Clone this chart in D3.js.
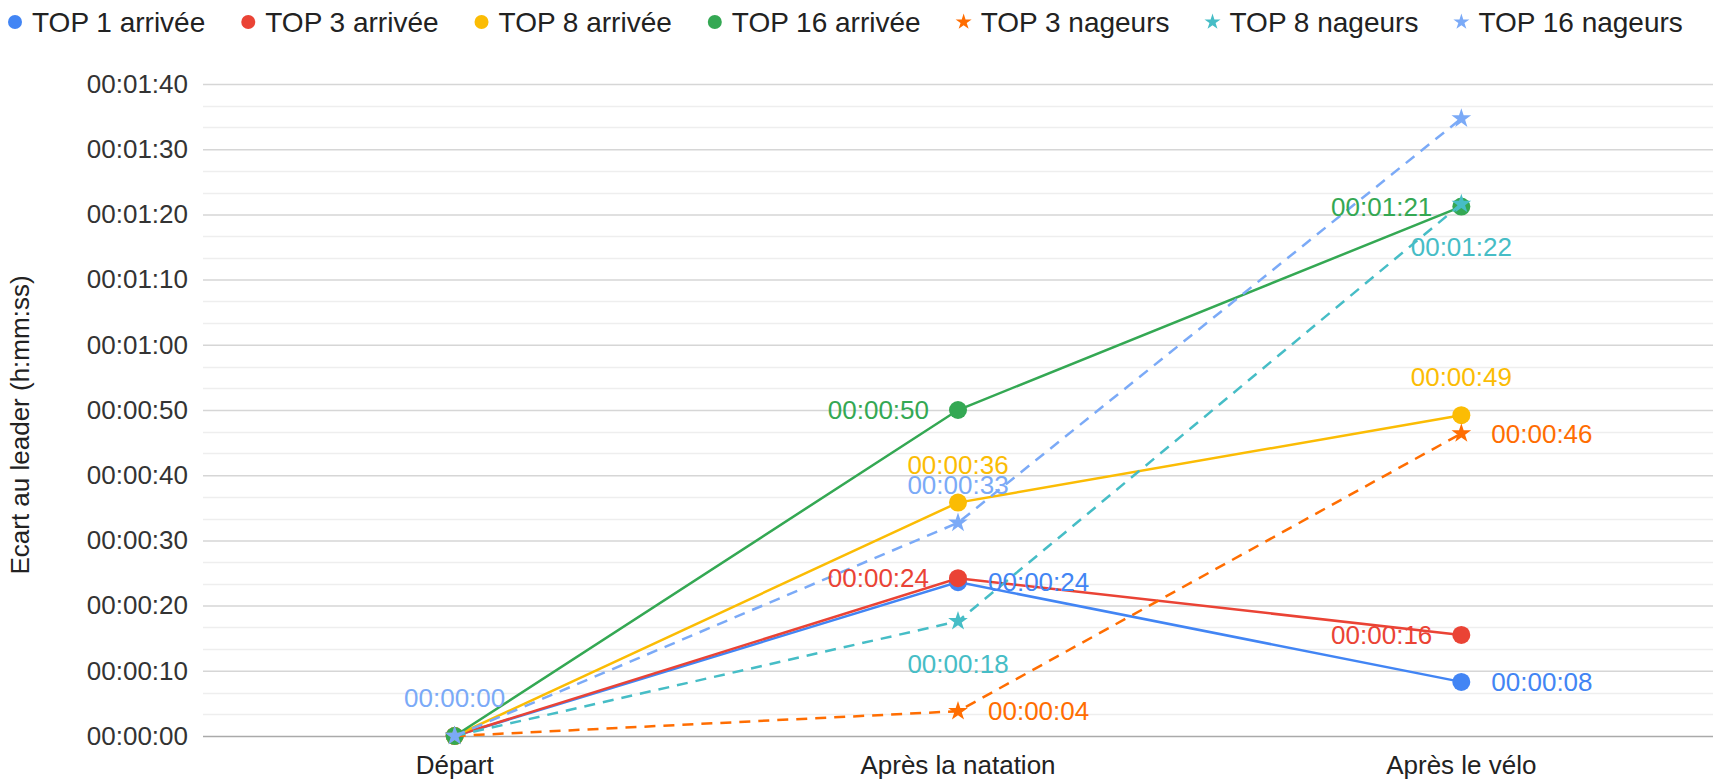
<!DOCTYPE html>
<html>
<head>
<meta charset="utf-8">
<script src="https://cdn.jsdelivr.net/npm/d3@7"></script>
<style>
  body { margin: 0; background: #fff; }
  text { font-family: "Liberation Sans", Arial, Helvetica, sans-serif; }
</style>
</head>
<body>
<script>
// Categories (x axis)
const categories = ["Départ", "Après la natation", "Après le vélo"];

// Gap to the leader, in seconds
const top1Arrivee = [0, 23.6, 8.3];
const top3Arrivee = [0, 24.2, 15.5];
const top8Arrivee = [0, 35.8, 49.2];
const top16Arrivee = [0, 50, 81.2];
const top3Nageurs = [0, 3.8, 46.4];
const top8Nageurs = [0, 17.6, 81.6];
const top16Nageurs = [0, 32.7, 94.7];

const seriesNames = [
  "TOP 1 arrivée", "TOP 3 arrivée", "TOP 8 arrivée", "TOP 16 arrivée",
  "TOP 3 nageurs", "TOP 8 nageurs", "TOP 16 nageurs",
];
const seriesValues = [
  top1Arrivee, top3Arrivee, top8Arrivee, top16Arrivee,
  top3Nageurs, top8Nageurs, top16Nageurs,
];

const yTicks = [0, 10, 20, 30, 40, 50, 60, 70, 80, 90, 100];

// Styles
const colors = ["#4285F4", "#EA4335", "#FBBC04", "#34A853", "#FF6D01", "#46BDC6", "#7BAAF7"];
const dashed = [false, false, false, false, true, true, true];
const stars = [false, false, false, false, true, true, true];
// where each point's label goes (null = hidden like in the original)
const labelPos = [
  [null, "right", "right"],
  [null, "left", "left"],
  [null, "above", "above"],
  [null, "left", "left"],
  [null, "right", "right"],
  [null, "below", "below"],
  ["above", "above", null],
];

const width = 1719;
const height = 783;
const plot = { left: 203, right: 1713, top: 84, bottom: 736 };
const fontSize = 26;

const series = seriesNames.map((name, i) => ({
  name,
  color: colors[i],
  dashed: dashed[i],
  star: stars[i],
  points: seriesValues[i].map((v, j) => ({ cat: categories[j], v, pos: labelPos[i][j] })),
}));

const fmt = (s) => {
  const t = Math.round(s);
  const p = (n) => String(n).padStart(2, "0");
  return `${p(Math.floor(t / 3600))}:${p(Math.floor(t / 60) % 60)}:${p(t % 60)}`;
};

const x = d3.scaleBand().domain(categories).range([plot.left, plot.right]);
const cx = (c) => x(c) + x.bandwidth() / 2;
const y = d3.scaleLinear().domain([0, 100]).range([plot.bottom, plot.top]);

const svg = d3
  .create("svg")
  .attr("width", width)
  .attr("height", height)
  .attr("viewBox", [0, 0, width, height]);

// attach now so text can be measured for the legend
d3.select("body").append(() => svg.node());

// Minor gridlines (2 between each major)
const minor = d3.range(0, 100, 10 / 3).filter((v) => Math.abs(v % 10) > 0.01 && Math.abs(v % 10) < 9.99);
svg
  .append("g")
  .selectAll("line")
  .data(minor)
  .join("line")
  .attr("x1", plot.left)
  .attr("x2", plot.right)
  .attr("y1", (d) => Math.round(y(d)) + 0.5)
  .attr("y2", (d) => Math.round(y(d)) + 0.5)
  .attr("stroke", "#eeeeee")
  .attr("stroke-width", 1.5);

// Y axis with major gridlines
const yAxis = svg
  .append("g")
  .attr("transform", `translate(${plot.left},0)`)
  .call(
    d3.axisLeft(y)
      .tickValues(yTicks)
      .tickFormat(fmt)
      .tickSize(-(plot.right - plot.left))
      .tickPadding(15)
  );
yAxis.select(".domain").remove();
yAxis.selectAll(".tick line").attr("stroke", (d) => (d === 0 ? "#aaaaaa" : "#d6d6d6")).attr("stroke-width", 1.5);
yAxis.selectAll(".tick text").attr("font-size", fontSize).attr("fill", "#333").style("font-family", "Liberation Sans, Arial, sans-serif");

// X axis labels
const xAxis = svg
  .append("g")
  .attr("transform", `translate(0,${plot.bottom})`)
  .call(d3.axisBottom(x).tickSize(0).tickPadding(20));
xAxis.select(".domain").remove();
xAxis.selectAll(".tick text").attr("font-size", fontSize).attr("fill", "#222").style("font-family", "Liberation Sans, Arial, sans-serif");

// Y axis title
svg
  .append("text")
  .attr("transform", `translate(29,${(plot.top + plot.bottom) / 2 + 15}) rotate(-90)`)
  .attr("text-anchor", "middle")
  .attr("font-size", fontSize)
  .attr("fill", "#222")
  .text("Ecart au leader (h:mm:ss)");

const line = d3
  .line()
  .x((d) => cx(d.cat))
  .y((d) => y(d.v));

const star = d3.symbol(d3.symbolStar, 120);
const starSmall = d3.symbol(d3.symbolStar, 80);

// Lines and markers, series after series
series.forEach((s) => {
  const g = svg.append("g");
  g.append("path")
    .attr("d", line(s.points))
    .attr("fill", "none")
    .attr("stroke", s.color)
    .attr("stroke-width", 2.5)
    .attr("stroke-dasharray", s.dashed ? "11,8" : null);

  if (s.star) {
    g.selectAll("path.mark")
      .data(s.points)
      .join("path")
      .attr("class", "mark")
      .attr("d", star)
      .attr("transform", (d) => `translate(${cx(d.cat)},${y(d.v)})`)
      .attr("fill", s.color);
  } else {
    g.selectAll("circle")
      .data(s.points)
      .join("circle")
      .attr("cx", (d) => cx(d.cat))
      .attr("cy", (d) => y(d.v))
      .attr("r", 9)
      .attr("fill", s.color);
  }
});

// Data labels
const labels = svg.append("g").attr("font-size", fontSize);
series.forEach((s) => {
  labels
    .selectAll(null)
    .data(s.points.filter((d) => d.pos))
    .join("text")
    .attr("fill", s.color)
    .attr("dy", "0.35em")
    .attr("text-anchor", (d) => (d.pos === "left" ? "end" : d.pos === "right" ? "start" : "middle"))
    .attr("x", (d) => cx(d.cat) + (d.pos === "left" ? -29 : d.pos === "right" ? 30 : 0))
    .attr("y", (d) => y(d.v) + (d.pos === "above" ? -38 : d.pos === "below" ? 43 : 0))
    .text((d) => fmt(d.v));
});

// Legend: symbol centre, then text 17px after, next symbol 43px after the text
const legend = svg.append("g").attr("font-size", 28);
let lx = 15;
series.forEach((s) => {
  const item = legend.append("g").attr("transform", `translate(${lx},22)`);
  if (s.star) {
    item.append("path").attr("d", starSmall).attr("fill", s.color);
  } else {
    item.append("circle").attr("r", 7).attr("fill", s.color);
  }
  const t = item
    .append("text")
    .attr("x", 17)
    .attr("dy", "0.35em")
    .attr("fill", "#222")
    .text(s.name);
  lx += 17 + t.node().getComputedTextLength() + 43;
});
</script>
</body>
</html>
